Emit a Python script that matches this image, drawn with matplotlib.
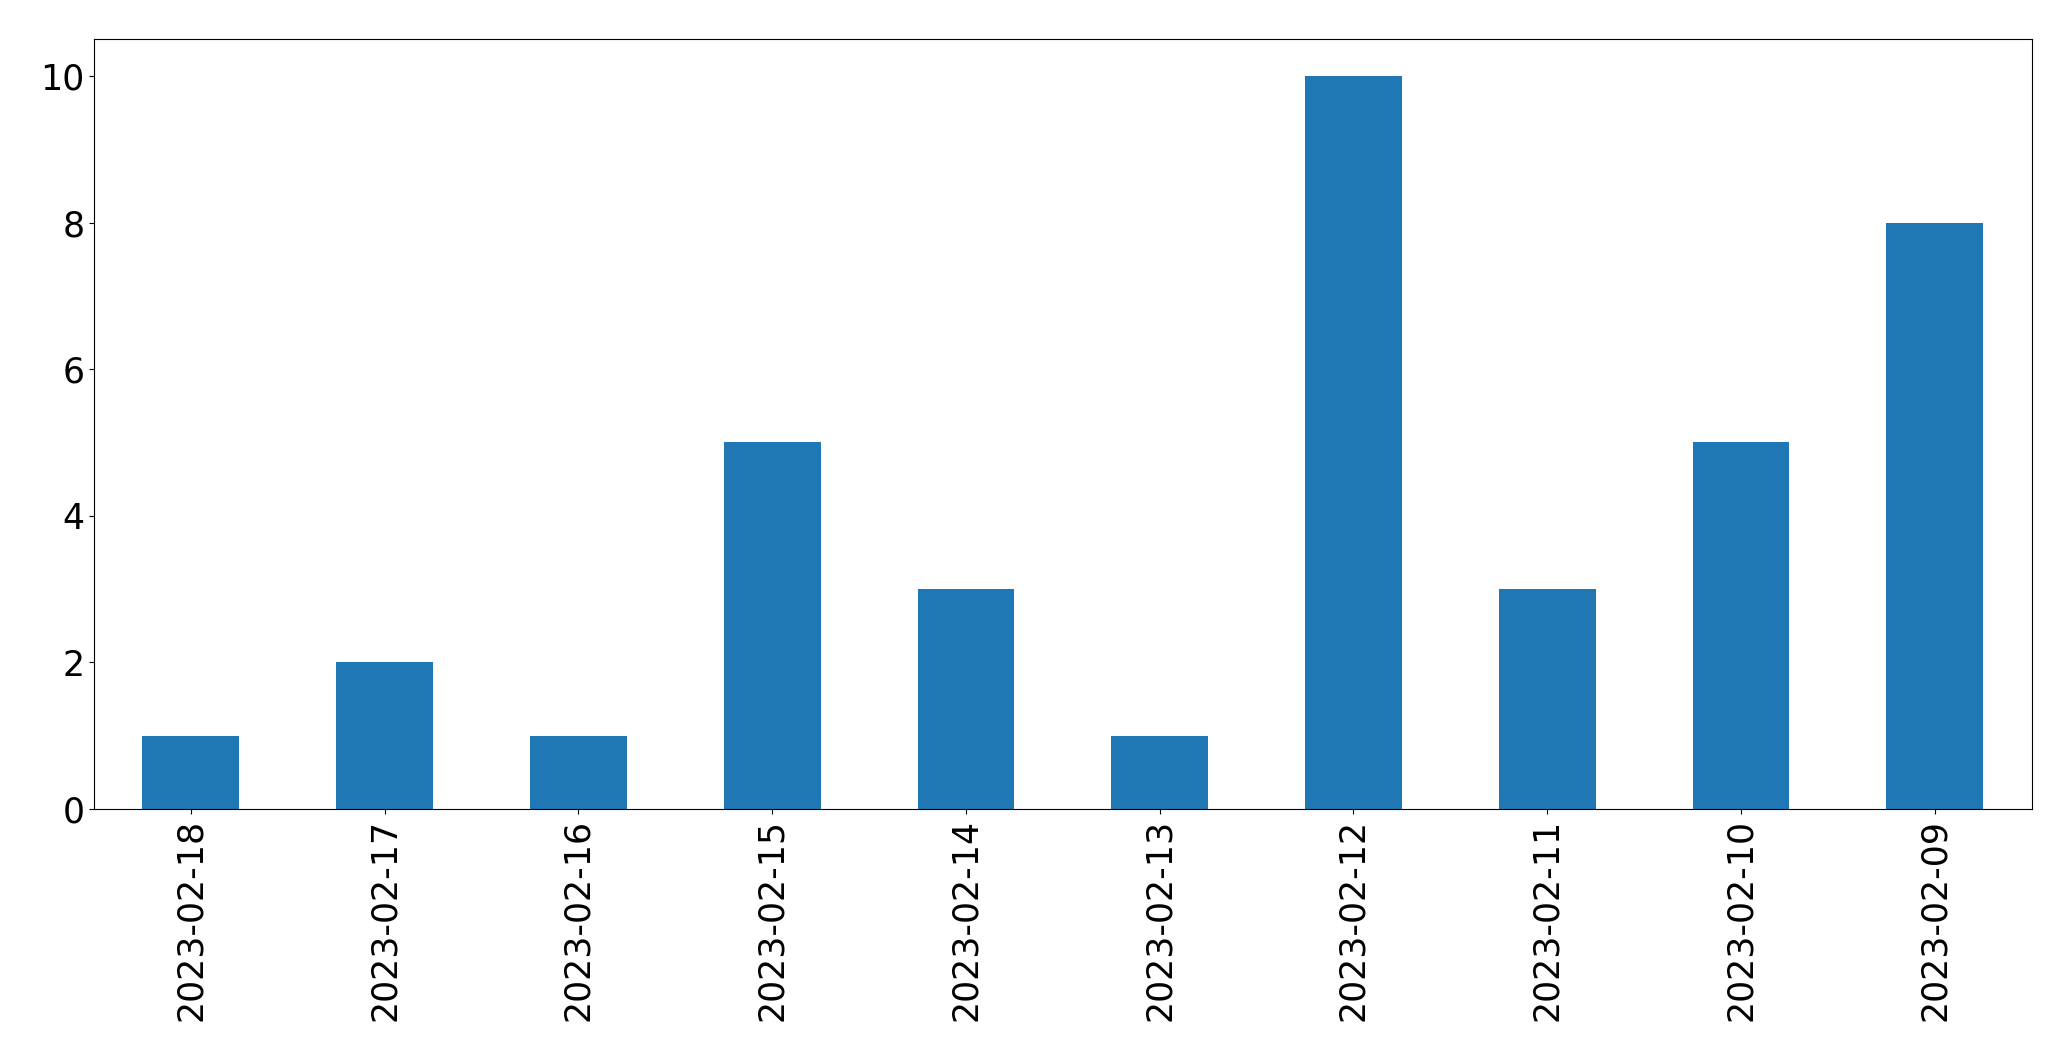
import matplotlib
matplotlib.use("Agg")
import matplotlib.pyplot as plt

dates = ["2023-02-18", "2023-02-17", "2023-02-16", "2023-02-15", "2023-02-14",
         "2023-02-13", "2023-02-12", "2023-02-11", "2023-02-10", "2023-02-09"]
counts = [1, 2, 1, 5, 3, 1, 10, 3, 5, 8]

fig = plt.figure(figsize=(20.71, 10.61), dpi=100)
ax = fig.add_axes([0.0454, 0.2375, 0.981 - 0.0454, 0.963 - 0.2375])
x = list(range(len(dates)))
ax.bar(x, counts, width=0.5, color="#1f77b4")
ax.set_xlim(-0.5, len(dates) - 0.5)
ax.set_ylim(0, 10.5)
ax.set_xticks(x)
ax.set_xticklabels(dates, rotation=90)
ax.set_yticks([0, 2, 4, 6, 8, 10])
ax.tick_params(labelsize=25)
fig.savefig("out.png", dpi=100)
